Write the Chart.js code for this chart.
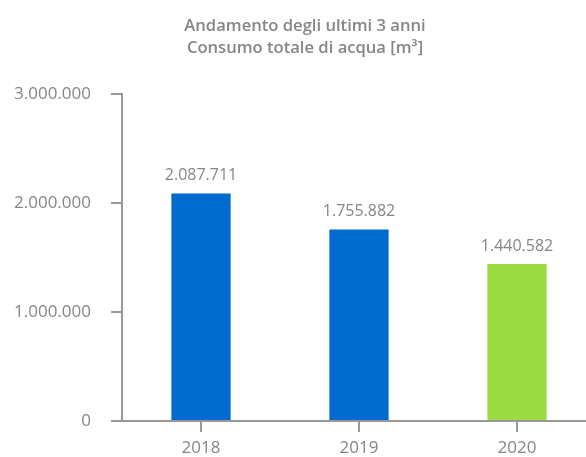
<!DOCTYPE html>
<html>
<head>
<meta charset="utf-8">
<script src="https://cdn.jsdelivr.net/npm/chart.js@4/dist/chart.umd.min.js"></script>
<style>
  html, body { margin: 0; padding: 0; background: #fff; overflow: hidden; }
  #wrap { width: 596px; height: 457px; position: relative; }
</style>
</head>
<body>
<div id="wrap"><canvas id="waterChart"></canvas></div>
<script>
var years = ['2018', '2019', '2020'];
var consumption = [2087711, 1755882, 1440582];
var barColors = ['#006ACF', '#006ACF', '#9CDB44'];
var titleLines = ['Andamento degli ultimi 3 anni', 'Consumo totale di acqua [m³]'];
var yTicks = [0, 1000000, 2000000, 3000000];

const GREY_TEXT = '#868686';
const GREY_AXIS = '#999999';
const FONT = '"Open Sans", sans-serif';

// thousands with dots, italian style
function fmt(n){
    return String(Math.round(n)).replace(/\B(?=(\d{3})+(?!\d))/g, '.');
}

var titlePlugin = {
    id: 'twoLineTitle',
    afterDraw: function(chart){
        const ctx = chart.ctx;
        ctx.save();
        ctx.fillStyle = GREY_TEXT;
        ctx.font = '600 16.6px ' + FONT;
        ctx.textAlign = 'center';
        ctx.textBaseline = 'middle';
        ctx.fillText(titleLines[0], 305, 26);
        ctx.fillText(titleLines[1], 305, 48);
        ctx.restore();
    }
};

var valueLabels = {
    id: 'valueLabels',
    afterDatasetsDraw: function(chart){
        const ctx = chart.ctx;
        const meta = chart.getDatasetMeta(0);
        ctx.save();
        ctx.fillStyle = GREY_TEXT;
        ctx.font = '16px ' + FONT;
        ctx.textAlign = 'center';
        ctx.textBaseline = 'middle';
        meta.data.forEach(function(bar, i){
            ctx.fillText(fmt(consumption[i]), bar.x, bar.y - 18);
        });
        ctx.restore();
    }
};

const ctx = document.getElementById('waterChart');
new Chart(ctx, {
    type: 'bar',
    data: {
        labels: years,
        datasets: [{
            data: consumption,
            backgroundColor: barColors,
            categoryPercentage: 1,
            barPercentage: 0.375
        }]
    },
    options: {
        responsive: true,
        maintainAspectRatio: false,
        animation: false,
        layout: { padding: { top: 94, left: 0, right: 0, bottom: 0 } },
        plugins: {
            legend: { display: false },
            title: { display: false },
            tooltip: { enabled: false }
        },
        scales: {
            x: {
                offset: true,
                grid: {
                    offset: false,
                    drawOnChartArea: false,
                    drawTicks: true,
                    tickLength: 11,
                    color: GREY_AXIS,
                    lineWidth: 2
                },
                border: { display: true, color: GREY_AXIS, width: 2 },
                ticks: { color: GREY_TEXT, font: { size: 17, family: FONT }, padding: 6 },
                afterFit: function(s){ s.height = 36; }
            },
            y: {
                min: 0,
                max: 3000000,
                afterBuildTicks: function(s){ s.ticks = yTicks.map(v => ({ value: v })); },
                grid: {
                    drawOnChartArea: false,
                    drawTicks: true,
                    tickLength: 11,
                    color: GREY_AXIS,
                    lineWidth: 2
                },
                border: { display: true, color: GREY_AXIS, width: 2 },
                ticks: {
                    color: GREY_TEXT,
                    font: { size: 17, family: FONT },
                    padding: 20,
                    callback: function(v){ return fmt(v); }
                },
                afterFit: function(s){ s.width = 122; }
            }
        }
    },
    plugins: [titlePlugin, valueLabels]
});
</script>
</body>
</html>
